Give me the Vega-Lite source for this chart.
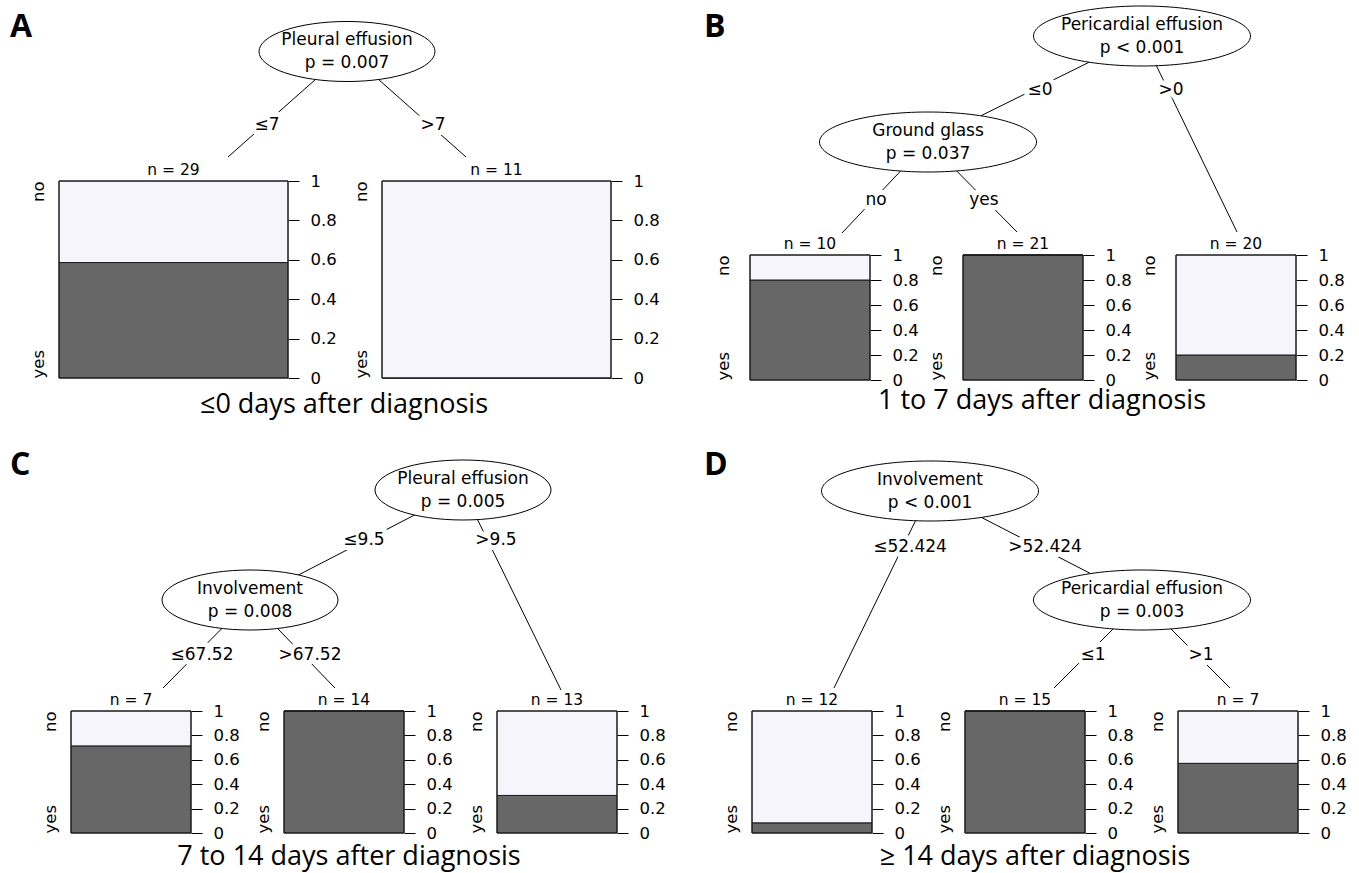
{
  "$schema": "https://vega.github.io/schema/vega-lite/v6.json",
  "background": "white",
  "padding": {"left": 0, "top": 0, "right": 0, "bottom": 2},
  "config": {
    "view": {"stroke": null},
    "axis": {"labelFont": "DejaVu Sans", "labelFontSize": 16.5, "labelColor": "black", "tickColor": "black", "tickWidth": 1},
    "title": {"font": "DejaVu Sans", "fontSize": 15.5, "fontWeight": "normal", "color": "black", "offset": -5},
    "text": {"font": "DejaVu Sans", "fontSize": 17, "color": "black"}
  },
  "datasets": {
    "nodes": [
      {"panel": "A", "x": 347, "y": 51.5, "var": "Pleural effusion", "p": "p = 0.007"},
      {"panel": "B", "x": 1142, "y": 36, "var": "Pericardial effusion", "p": "p < 0.001"},
      {"panel": "B", "x": 928, "y": 142, "var": "Ground glass", "p": "p = 0.037"},
      {"panel": "C", "x": 463, "y": 490, "var": "Pleural effusion", "p": "p = 0.005"},
      {"panel": "C", "x": 250, "y": 600, "var": "Involvement", "p": "p = 0.008"},
      {"panel": "D", "x": 930, "y": 491, "var": "Involvement", "p": "p < 0.001"},
      {"panel": "D", "x": 1142, "y": 600, "var": "Pericardial effusion", "p": "p = 0.003"}
    ],
    "edges": [
      {"panel": "A", "x": 347, "y": 51.5, "x2": 228, "y2": 157},
      {"panel": "A", "x": 347, "y": 51.5, "x2": 466, "y2": 157},
      {"panel": "B", "x": 1142, "y": 36, "x2": 928, "y2": 142},
      {"panel": "B", "x": 1142, "y": 36, "x2": 1237, "y2": 232},
      {"panel": "B", "x": 928, "y": 142, "x2": 842, "y2": 233},
      {"panel": "B", "x": 928, "y": 142, "x2": 1017, "y2": 232},
      {"panel": "C", "x": 463, "y": 490, "x2": 250, "y2": 600},
      {"panel": "C", "x": 463, "y": 490, "x2": 561, "y2": 690},
      {"panel": "C", "x": 250, "y": 600, "x2": 163, "y2": 688},
      {"panel": "C", "x": 250, "y": 600, "x2": 335, "y2": 688},
      {"panel": "D", "x": 930, "y": 491, "x2": 834, "y2": 688},
      {"panel": "D", "x": 930, "y": 491, "x2": 1142, "y2": 600},
      {"panel": "D", "x": 1142, "y": 600, "x2": 1054, "y2": 688},
      {"panel": "D", "x": 1142, "y": 600, "x2": 1230, "y2": 688}
    ],
    "edgelabels": [
      {"panel": "A", "x": 267, "y": 125, "label": "≤7"},
      {"panel": "A", "x": 433, "y": 125, "label": ">7"},
      {"panel": "B", "x": 1040, "y": 90, "label": "≤0"},
      {"panel": "B", "x": 1171, "y": 90, "label": ">0"},
      {"panel": "B", "x": 876, "y": 200, "label": "no"},
      {"panel": "B", "x": 984, "y": 200, "label": "yes"},
      {"panel": "C", "x": 364, "y": 540, "label": "≤9.5"},
      {"panel": "C", "x": 496, "y": 540, "label": ">9.5"},
      {"panel": "C", "x": 202, "y": 655, "label": "≤67.52"},
      {"panel": "C", "x": 310, "y": 655, "label": ">67.52"},
      {"panel": "D", "x": 910, "y": 547, "label": "≤52.424"},
      {"panel": "D", "x": 1045, "y": 547, "label": ">52.424"},
      {"panel": "D", "x": 1093, "y": 655, "label": "≤1"},
      {"panel": "D", "x": 1201, "y": 655, "label": ">1"}
    ],
    "texts": [
      {"panel": "A", "kind": "letter", "x": 10, "y": 37, "text": "A"},
      {"panel": "B", "kind": "letter", "x": 704, "y": 37, "text": "B"},
      {"panel": "C", "kind": "letter", "x": 10, "y": 475, "text": "C"},
      {"panel": "D", "kind": "letter", "x": 704, "y": 475, "text": "D"},
      {"panel": "A", "kind": "caption", "x": 344, "y": 405, "text": "≤0 days after diagnosis"},
      {"panel": "B", "kind": "caption", "x": 1042, "y": 401, "text": "1 to 7 days after diagnosis"},
      {"panel": "C", "kind": "caption", "x": 349, "y": 857, "text": "7 to 14 days after diagnosis"},
      {"panel": "D", "kind": "caption", "x": 1035, "y": 857, "text": "≥ 14 days after diagnosis"}
    ],
    "leaves": [
      {"leaf": "A1", "outcome": "yes", "prop": 0.586}, {"leaf": "A1", "outcome": "no", "prop": 0.414},
      {"leaf": "A2", "outcome": "yes", "prop": 0}, {"leaf": "A2", "outcome": "no", "prop": 1},
      {"leaf": "B1", "outcome": "yes", "prop": 0.8}, {"leaf": "B1", "outcome": "no", "prop": 0.2},
      {"leaf": "B2", "outcome": "yes", "prop": 1}, {"leaf": "B2", "outcome": "no", "prop": 0},
      {"leaf": "B3", "outcome": "yes", "prop": 0.2}, {"leaf": "B3", "outcome": "no", "prop": 0.8},
      {"leaf": "C1", "outcome": "yes", "prop": 0.714}, {"leaf": "C1", "outcome": "no", "prop": 0.286},
      {"leaf": "C2", "outcome": "yes", "prop": 1}, {"leaf": "C2", "outcome": "no", "prop": 0},
      {"leaf": "C3", "outcome": "yes", "prop": 0.308}, {"leaf": "C3", "outcome": "no", "prop": 0.692},
      {"leaf": "D1", "outcome": "yes", "prop": 0.083}, {"leaf": "D1", "outcome": "no", "prop": 0.917},
      {"leaf": "D2", "outcome": "yes", "prop": 1}, {"leaf": "D2", "outcome": "no", "prop": 0},
      {"leaf": "D3", "outcome": "yes", "prop": 0.571}, {"leaf": "D3", "outcome": "no", "prop": 0.429}
    ]
  },
  "bounds": "flush",
  "spacing": 440,
  "vconcat": [
    {
      "bounds": "flush",
      "spacing": 687,
      "hconcat": [
        {
          "bounds": "flush", "spacing": 0, "center": true,
          "vconcat": [
            {
              "width": 118, "height": 181,
              "encoding": {
                "x": {"field": "x", "type": "quantitative", "axis": null, "scale": {"domain": [0, 118], "nice": false, "zero": false}},
                "y": {"field": "y", "type": "quantitative", "axis": null, "scale": {"domain": [0, 181], "nice": false, "zero": false, "reverse": true}}
              },
              "layer": [
                {"data": {"name": "edges"}, "transform": [{"filter": "datum.panel == 'A'"}], "mark": {"type": "rule", "color": "black", "strokeWidth": 1}, "encoding": {"x2": {"field": "x2"}, "y2": {"field": "y2"}}},
                {"data": {"name": "edgelabels"}, "transform": [{"filter": "datum.panel == 'A'"}], "mark": {"type": "text", "fill": "white", "stroke": "white", "strokeWidth": 10, "strokeJoin": "round"}, "encoding": {"text": {"field": "label"}}},
                {"data": {"name": "edgelabels"}, "transform": [{"filter": "datum.panel == 'A'"}], "mark": {"type": "text"}, "encoding": {"text": {"field": "label"}}},
                {"data": {"name": "nodes"}, "transform": [{"filter": "datum.panel == 'A'"}], "mark": {"type": "point", "shape": "M-1,0C-1,-0.1883,-0.5523,-0.341,0,-0.341C0.5523,-0.341,1,-0.1883,1,0C1,0.1883,0.5523,0.341,0,0.341C-0.5523,0.341,-1,0.1883,-1,0Z", "size": 30976, "filled": true, "fill": "white", "stroke": "black", "strokeWidth": 1, "opacity": 1}},
                {"data": {"name": "nodes"}, "transform": [{"filter": "datum.panel == 'A'"}], "mark": {"type": "text", "dy": -11.5}, "encoding": {"text": {"field": "var"}}},
                {"data": {"name": "nodes"}, "transform": [{"filter": "datum.panel == 'A'"}], "mark": {"type": "text", "dy": 11.5}, "encoding": {"text": {"field": "p"}}},
                {"data": {"name": "texts"}, "transform": [{"filter": "datum.panel == 'A' && datum.kind == 'letter'"}], "mark": {"type": "text", "font": "Open Sans", "fontWeight": "bold", "fontSize": 32, "align": "left", "baseline": "alphabetic"}, "encoding": {"text": {"field": "text"}}},
                {"data": {"name": "texts"}, "transform": [{"filter": "datum.panel == 'A' && datum.kind == 'caption'"}], "mark": {"type": "text", "font": "Open Sans", "fontSize": 27}, "encoding": {"text": {"field": "text"}}}
              ]
            },
            {
              "bounds": "flush", "spacing": 94,
              "hconcat": [
                {
                  "width": 229, "height": 197, "title": {"text": "n = 29"},
                  "data": {"name": "leaves"}, "transform": [{"filter": "datum.leaf == 'A1'"}],
                  "encoding": {"x": {"field": "leaf", "type": "nominal", "axis": null, "scale": {"paddingInner": 0, "paddingOuter": 0}}},
                  "layer": [
                    {"mark": {"type": "bar", "stroke": "#1a1a1a", "strokeWidth": 1}, "encoding": {"y": {"field": "prop", "type": "quantitative", "stack": "zero", "scale": {"domain": [0, 1], "nice": false}, "axis": {"orient": "right", "values": [0, 0.2, 0.4, 0.6, 0.8, 1], "format": "~g", "title": null, "domain": false, "grid": false, "tickSize": 11, "labelPadding": 11}}, "color": {"field": "outcome", "type": "nominal", "scale": {"domain": ["yes", "no"], "range": ["#676767", "#F5F5FB"]}, "legend": null}, "order": {"field": "outcome", "type": "ordinal", "sort": "descending"}}},
                    {"mark": {"type": "bar", "fillOpacity": 0, "stroke": "#1a1a1a", "strokeWidth": 1}, "encoding": {"y": {"aggregate": "sum", "field": "prop", "type": "quantitative", "axis": {"orient": "left", "values": [0, 1], "labelExpr": "datum.value == 1 ? 'no' : 'yes'", "ticks": false, "domain": false, "grid": false, "title": null, "labelAngle": 270, "labelAlign": {"condition": {"test": "datum.value == 1", "value": "right"}, "value": "left"}, "labelBaseline": "bottom", "labelPadding": 13}}}}
                  ],
                  "resolve": {"axis": {"y": "independent"}}
                },
                {
                  "width": 229, "height": 197, "title": {"text": "n = 11"},
                  "data": {"name": "leaves"}, "transform": [{"filter": "datum.leaf == 'A2'"}],
                  "encoding": {"x": {"field": "leaf", "type": "nominal", "axis": null, "scale": {"paddingInner": 0, "paddingOuter": 0}}},
                  "layer": [
                    {"mark": {"type": "bar", "stroke": "#1a1a1a", "strokeWidth": 1}, "encoding": {"y": {"field": "prop", "type": "quantitative", "stack": "zero", "scale": {"domain": [0, 1], "nice": false}, "axis": {"orient": "right", "values": [0, 0.2, 0.4, 0.6, 0.8, 1], "format": "~g", "title": null, "domain": false, "grid": false, "tickSize": 11, "labelPadding": 11}}, "color": {"field": "outcome", "type": "nominal", "scale": {"domain": ["yes", "no"], "range": ["#676767", "#F5F5FB"]}, "legend": null}, "order": {"field": "outcome", "type": "ordinal", "sort": "descending"}}},
                    {"mark": {"type": "bar", "fillOpacity": 0, "stroke": "#1a1a1a", "strokeWidth": 1}, "encoding": {"y": {"aggregate": "sum", "field": "prop", "type": "quantitative", "axis": {"orient": "left", "values": [0, 1], "labelExpr": "datum.value == 1 ? 'no' : 'yes'", "ticks": false, "domain": false, "grid": false, "title": null, "labelAngle": 270, "labelAlign": {"condition": {"test": "datum.value == 1", "value": "right"}, "value": "left"}, "labelBaseline": "bottom", "labelPadding": 13}}}}
                  ],
                  "resolve": {"axis": {"y": "independent"}}
                }
              ]
            }
          ]
        },
        {
          "bounds": "flush", "spacing": 0, "center": true,
          "vconcat": [
            {
              "width": 126, "height": 255,
              "encoding": {
                "x": {"field": "x", "type": "quantitative", "axis": null, "scale": {"domain": [687, 813], "nice": false, "zero": false}},
                "y": {"field": "y", "type": "quantitative", "axis": null, "scale": {"domain": [0, 255], "nice": false, "zero": false, "reverse": true}}
              },
              "layer": [
                {"data": {"name": "edges"}, "transform": [{"filter": "datum.panel == 'B'"}], "mark": {"type": "rule", "color": "black", "strokeWidth": 1}, "encoding": {"x2": {"field": "x2"}, "y2": {"field": "y2"}}},
                {"data": {"name": "edgelabels"}, "transform": [{"filter": "datum.panel == 'B'"}], "mark": {"type": "text", "fill": "white", "stroke": "white", "strokeWidth": 10, "strokeJoin": "round"}, "encoding": {"text": {"field": "label"}}},
                {"data": {"name": "edgelabels"}, "transform": [{"filter": "datum.panel == 'B'"}], "mark": {"type": "text"}, "encoding": {"text": {"field": "label"}}},
                {"data": {"name": "nodes"}, "transform": [{"filter": "datum.panel == 'B'"}], "mark": {"type": "point", "shape": "M-1,0C-1,-0.1527,-0.5523,-0.2765,0,-0.2765C0.5523,-0.2765,1,-0.1527,1,0C1,0.1527,0.5523,0.2765,0,0.2765C-0.5523,0.2765,-1,0.1527,-1,0Z", "size": 47089, "filled": true, "fill": "white", "stroke": "black", "strokeWidth": 1, "opacity": 1}},
                {"data": {"name": "nodes"}, "transform": [{"filter": "datum.panel == 'B'"}], "mark": {"type": "text", "dy": -11.5}, "encoding": {"text": {"field": "var"}}},
                {"data": {"name": "nodes"}, "transform": [{"filter": "datum.panel == 'B'"}], "mark": {"type": "text", "dy": 11.5}, "encoding": {"text": {"field": "p"}}},
                {"data": {"name": "texts"}, "transform": [{"filter": "datum.panel == 'B' && datum.kind == 'letter'"}], "mark": {"type": "text", "font": "Open Sans", "fontWeight": "bold", "fontSize": 32, "align": "left", "baseline": "alphabetic"}, "encoding": {"text": {"field": "text"}}},
                {"data": {"name": "texts"}, "transform": [{"filter": "datum.panel == 'B' && datum.kind == 'caption'"}], "mark": {"type": "text", "font": "Open Sans", "fontSize": 27}, "encoding": {"text": {"field": "text"}}}
              ]
            },
            {
              "bounds": "flush", "spacing": 93,
              "hconcat": [
                {
                  "width": 120, "height": 125, "title": {"text": "n = 10"},
                  "data": {"name": "leaves"}, "transform": [{"filter": "datum.leaf == 'B1'"}],
                  "encoding": {"x": {"field": "leaf", "type": "nominal", "axis": null, "scale": {"paddingInner": 0, "paddingOuter": 0}}},
                  "layer": [
                    {"mark": {"type": "bar", "stroke": "#1a1a1a", "strokeWidth": 1}, "encoding": {"y": {"field": "prop", "type": "quantitative", "stack": "zero", "scale": {"domain": [0, 1], "nice": false}, "axis": {"orient": "right", "values": [0, 0.2, 0.4, 0.6, 0.8, 1], "format": "~g", "title": null, "domain": false, "grid": false, "tickSize": 11, "labelPadding": 11}}, "color": {"field": "outcome", "type": "nominal", "scale": {"domain": ["yes", "no"], "range": ["#676767", "#F5F5FB"]}, "legend": null}, "order": {"field": "outcome", "type": "ordinal", "sort": "descending"}}},
                    {"mark": {"type": "bar", "fillOpacity": 0, "stroke": "#1a1a1a", "strokeWidth": 1}, "encoding": {"y": {"aggregate": "sum", "field": "prop", "type": "quantitative", "axis": {"orient": "left", "values": [0, 1], "labelExpr": "datum.value == 1 ? 'no' : 'yes'", "ticks": false, "domain": false, "grid": false, "title": null, "labelAngle": 270, "labelAlign": {"condition": {"test": "datum.value == 1", "value": "right"}, "value": "left"}, "labelBaseline": "bottom", "labelPadding": 19}}}}
                  ],
                  "resolve": {"axis": {"y": "independent"}}
                },
                {
                  "width": 120, "height": 125, "title": {"text": "n = 21"},
                  "data": {"name": "leaves"}, "transform": [{"filter": "datum.leaf == 'B2'"}],
                  "encoding": {"x": {"field": "leaf", "type": "nominal", "axis": null, "scale": {"paddingInner": 0, "paddingOuter": 0}}},
                  "layer": [
                    {"mark": {"type": "bar", "stroke": "#1a1a1a", "strokeWidth": 1}, "encoding": {"y": {"field": "prop", "type": "quantitative", "stack": "zero", "scale": {"domain": [0, 1], "nice": false}, "axis": {"orient": "right", "values": [0, 0.2, 0.4, 0.6, 0.8, 1], "format": "~g", "title": null, "domain": false, "grid": false, "tickSize": 11, "labelPadding": 11}}, "color": {"field": "outcome", "type": "nominal", "scale": {"domain": ["yes", "no"], "range": ["#676767", "#F5F5FB"]}, "legend": null}, "order": {"field": "outcome", "type": "ordinal", "sort": "descending"}}},
                    {"mark": {"type": "bar", "fillOpacity": 0, "stroke": "#1a1a1a", "strokeWidth": 1}, "encoding": {"y": {"aggregate": "sum", "field": "prop", "type": "quantitative", "axis": {"orient": "left", "values": [0, 1], "labelExpr": "datum.value == 1 ? 'no' : 'yes'", "ticks": false, "domain": false, "grid": false, "title": null, "labelAngle": 270, "labelAlign": {"condition": {"test": "datum.value == 1", "value": "right"}, "value": "left"}, "labelBaseline": "bottom", "labelPadding": 19}}}}
                  ],
                  "resolve": {"axis": {"y": "independent"}}
                },
                {
                  "width": 120, "height": 125, "title": {"text": "n = 20"},
                  "data": {"name": "leaves"}, "transform": [{"filter": "datum.leaf == 'B3'"}],
                  "encoding": {"x": {"field": "leaf", "type": "nominal", "axis": null, "scale": {"paddingInner": 0, "paddingOuter": 0}}},
                  "layer": [
                    {"mark": {"type": "bar", "stroke": "#1a1a1a", "strokeWidth": 1}, "encoding": {"y": {"field": "prop", "type": "quantitative", "stack": "zero", "scale": {"domain": [0, 1], "nice": false}, "axis": {"orient": "right", "values": [0, 0.2, 0.4, 0.6, 0.8, 1], "format": "~g", "title": null, "domain": false, "grid": false, "tickSize": 11, "labelPadding": 11}}, "color": {"field": "outcome", "type": "nominal", "scale": {"domain": ["yes", "no"], "range": ["#676767", "#F5F5FB"]}, "legend": null}, "order": {"field": "outcome", "type": "ordinal", "sort": "descending"}}},
                    {"mark": {"type": "bar", "fillOpacity": 0, "stroke": "#1a1a1a", "strokeWidth": 1}, "encoding": {"y": {"aggregate": "sum", "field": "prop", "type": "quantitative", "axis": {"orient": "left", "values": [0, 1], "labelExpr": "datum.value == 1 ? 'no' : 'yes'", "ticks": false, "domain": false, "grid": false, "title": null, "labelAngle": 270, "labelAlign": {"condition": {"test": "datum.value == 1", "value": "right"}, "value": "left"}, "labelBaseline": "bottom", "labelPadding": 19}}}}
                  ],
                  "resolve": {"axis": {"y": "independent"}}
                }
              ]
            }
          ]
        }
      ]
    },
    {
      "bounds": "flush",
      "spacing": 691,
      "hconcat": [
        {
          "bounds": "flush", "spacing": 0, "center": true,
          "vconcat": [
            {
              "width": 142, "height": 271,
              "encoding": {
                "x": {"field": "x", "type": "quantitative", "axis": null, "scale": {"domain": [0, 142], "nice": false, "zero": false}},
                "y": {"field": "y", "type": "quantitative", "axis": null, "scale": {"domain": [440, 711], "nice": false, "zero": false, "reverse": true}}
              },
              "layer": [
                {"data": {"name": "edges"}, "transform": [{"filter": "datum.panel == 'C'"}], "mark": {"type": "rule", "color": "black", "strokeWidth": 1}, "encoding": {"x2": {"field": "x2"}, "y2": {"field": "y2"}}},
                {"data": {"name": "edgelabels"}, "transform": [{"filter": "datum.panel == 'C'"}], "mark": {"type": "text", "fill": "white", "stroke": "white", "strokeWidth": 10, "strokeJoin": "round"}, "encoding": {"text": {"field": "label"}}},
                {"data": {"name": "edgelabels"}, "transform": [{"filter": "datum.panel == 'C'"}], "mark": {"type": "text"}, "encoding": {"text": {"field": "label"}}},
                {"data": {"name": "nodes"}, "transform": [{"filter": "datum.panel == 'C'"}], "mark": {"type": "point", "shape": "M-1,0C-1,-0.1883,-0.5523,-0.341,0,-0.341C0.5523,-0.341,1,-0.1883,1,0C1,0.1883,0.5523,0.341,0,0.341C-0.5523,0.341,-1,0.1883,-1,0Z", "size": 30976, "filled": true, "fill": "white", "stroke": "black", "strokeWidth": 1, "opacity": 1}},
                {"data": {"name": "nodes"}, "transform": [{"filter": "datum.panel == 'C'"}], "mark": {"type": "text", "dy": -11.5}, "encoding": {"text": {"field": "var"}}},
                {"data": {"name": "nodes"}, "transform": [{"filter": "datum.panel == 'C'"}], "mark": {"type": "text", "dy": 11.5}, "encoding": {"text": {"field": "p"}}},
                {"data": {"name": "texts"}, "transform": [{"filter": "datum.panel == 'C' && datum.kind == 'letter'"}], "mark": {"type": "text", "font": "Open Sans", "fontWeight": "bold", "fontSize": 32, "align": "left", "baseline": "alphabetic"}, "encoding": {"text": {"field": "text"}}},
                {"data": {"name": "texts"}, "transform": [{"filter": "datum.panel == 'C' && datum.kind == 'caption'"}], "mark": {"type": "text", "font": "Open Sans", "fontSize": 27}, "encoding": {"text": {"field": "text"}}}
              ]
            },
            {
              "bounds": "flush", "spacing": 93,
              "hconcat": [
                {
                  "width": 120, "height": 122, "title": {"text": "n = 7"},
                  "data": {"name": "leaves"}, "transform": [{"filter": "datum.leaf == 'C1'"}],
                  "encoding": {"x": {"field": "leaf", "type": "nominal", "axis": null, "scale": {"paddingInner": 0, "paddingOuter": 0}}},
                  "layer": [
                    {"mark": {"type": "bar", "stroke": "#1a1a1a", "strokeWidth": 1}, "encoding": {"y": {"field": "prop", "type": "quantitative", "stack": "zero", "scale": {"domain": [0, 1], "nice": false}, "axis": {"orient": "right", "values": [0, 0.2, 0.4, 0.6, 0.8, 1], "format": "~g", "title": null, "domain": false, "grid": false, "tickSize": 11, "labelPadding": 11}}, "color": {"field": "outcome", "type": "nominal", "scale": {"domain": ["yes", "no"], "range": ["#676767", "#F5F5FB"]}, "legend": null}, "order": {"field": "outcome", "type": "ordinal", "sort": "descending"}}},
                    {"mark": {"type": "bar", "fillOpacity": 0, "stroke": "#1a1a1a", "strokeWidth": 1}, "encoding": {"y": {"aggregate": "sum", "field": "prop", "type": "quantitative", "axis": {"orient": "left", "values": [0, 1], "labelExpr": "datum.value == 1 ? 'no' : 'yes'", "ticks": false, "domain": false, "grid": false, "title": null, "labelAngle": 270, "labelAlign": {"condition": {"test": "datum.value == 1", "value": "right"}, "value": "left"}, "labelBaseline": "bottom", "labelPadding": 13}}}}
                  ],
                  "resolve": {"axis": {"y": "independent"}}
                },
                {
                  "width": 120, "height": 122, "title": {"text": "n = 14"},
                  "data": {"name": "leaves"}, "transform": [{"filter": "datum.leaf == 'C2'"}],
                  "encoding": {"x": {"field": "leaf", "type": "nominal", "axis": null, "scale": {"paddingInner": 0, "paddingOuter": 0}}},
                  "layer": [
                    {"mark": {"type": "bar", "stroke": "#1a1a1a", "strokeWidth": 1}, "encoding": {"y": {"field": "prop", "type": "quantitative", "stack": "zero", "scale": {"domain": [0, 1], "nice": false}, "axis": {"orient": "right", "values": [0, 0.2, 0.4, 0.6, 0.8, 1], "format": "~g", "title": null, "domain": false, "grid": false, "tickSize": 11, "labelPadding": 11}}, "color": {"field": "outcome", "type": "nominal", "scale": {"domain": ["yes", "no"], "range": ["#676767", "#F5F5FB"]}, "legend": null}, "order": {"field": "outcome", "type": "ordinal", "sort": "descending"}}},
                    {"mark": {"type": "bar", "fillOpacity": 0, "stroke": "#1a1a1a", "strokeWidth": 1}, "encoding": {"y": {"aggregate": "sum", "field": "prop", "type": "quantitative", "axis": {"orient": "left", "values": [0, 1], "labelExpr": "datum.value == 1 ? 'no' : 'yes'", "ticks": false, "domain": false, "grid": false, "title": null, "labelAngle": 270, "labelAlign": {"condition": {"test": "datum.value == 1", "value": "right"}, "value": "left"}, "labelBaseline": "bottom", "labelPadding": 13}}}}
                  ],
                  "resolve": {"axis": {"y": "independent"}}
                },
                {
                  "width": 120, "height": 122, "title": {"text": "n = 13"},
                  "data": {"name": "leaves"}, "transform": [{"filter": "datum.leaf == 'C3'"}],
                  "encoding": {"x": {"field": "leaf", "type": "nominal", "axis": null, "scale": {"paddingInner": 0, "paddingOuter": 0}}},
                  "layer": [
                    {"mark": {"type": "bar", "stroke": "#1a1a1a", "strokeWidth": 1}, "encoding": {"y": {"field": "prop", "type": "quantitative", "stack": "zero", "scale": {"domain": [0, 1], "nice": false}, "axis": {"orient": "right", "values": [0, 0.2, 0.4, 0.6, 0.8, 1], "format": "~g", "title": null, "domain": false, "grid": false, "tickSize": 11, "labelPadding": 11}}, "color": {"field": "outcome", "type": "nominal", "scale": {"domain": ["yes", "no"], "range": ["#676767", "#F5F5FB"]}, "legend": null}, "order": {"field": "outcome", "type": "ordinal", "sort": "descending"}}},
                    {"mark": {"type": "bar", "fillOpacity": 0, "stroke": "#1a1a1a", "strokeWidth": 1}, "encoding": {"y": {"aggregate": "sum", "field": "prop", "type": "quantitative", "axis": {"orient": "left", "values": [0, 1], "labelExpr": "datum.value == 1 ? 'no' : 'yes'", "ticks": false, "domain": false, "grid": false, "title": null, "labelAngle": 270, "labelAlign": {"condition": {"test": "datum.value == 1", "value": "right"}, "value": "left"}, "labelBaseline": "bottom", "labelPadding": 13}}}}
                  ],
                  "resolve": {"axis": {"y": "independent"}}
                }
              ]
            }
          ]
        },
        {
          "bounds": "flush", "spacing": 0, "center": true,
          "vconcat": [
            {
              "width": 122, "height": 271,
              "encoding": {
                "x": {"field": "x", "type": "quantitative", "axis": null, "scale": {"domain": [691, 813], "nice": false, "zero": false}},
                "y": {"field": "y", "type": "quantitative", "axis": null, "scale": {"domain": [440, 711], "nice": false, "zero": false, "reverse": true}}
              },
              "layer": [
                {"data": {"name": "edges"}, "transform": [{"filter": "datum.panel == 'D'"}], "mark": {"type": "rule", "color": "black", "strokeWidth": 1}, "encoding": {"x2": {"field": "x2"}, "y2": {"field": "y2"}}},
                {"data": {"name": "edgelabels"}, "transform": [{"filter": "datum.panel == 'D'"}], "mark": {"type": "text", "fill": "white", "stroke": "white", "strokeWidth": 10, "strokeJoin": "round"}, "encoding": {"text": {"field": "label"}}},
                {"data": {"name": "edgelabels"}, "transform": [{"filter": "datum.panel == 'D'"}], "mark": {"type": "text"}, "encoding": {"text": {"field": "label"}}},
                {"data": {"name": "nodes"}, "transform": [{"filter": "datum.panel == 'D'"}], "mark": {"type": "point", "shape": "M-1,0C-1,-0.1527,-0.5523,-0.2765,0,-0.2765C0.5523,-0.2765,1,-0.1527,1,0C1,0.1527,0.5523,0.2765,0,0.2765C-0.5523,0.2765,-1,0.1527,-1,0Z", "size": 47089, "filled": true, "fill": "white", "stroke": "black", "strokeWidth": 1, "opacity": 1}},
                {"data": {"name": "nodes"}, "transform": [{"filter": "datum.panel == 'D'"}], "mark": {"type": "text", "dy": -11.5}, "encoding": {"text": {"field": "var"}}},
                {"data": {"name": "nodes"}, "transform": [{"filter": "datum.panel == 'D'"}], "mark": {"type": "text", "dy": 11.5}, "encoding": {"text": {"field": "p"}}},
                {"data": {"name": "texts"}, "transform": [{"filter": "datum.panel == 'D' && datum.kind == 'letter'"}], "mark": {"type": "text", "font": "Open Sans", "fontWeight": "bold", "fontSize": 32, "align": "left", "baseline": "alphabetic"}, "encoding": {"text": {"field": "text"}}},
                {"data": {"name": "texts"}, "transform": [{"filter": "datum.panel == 'D' && datum.kind == 'caption'"}], "mark": {"type": "text", "font": "Open Sans", "fontSize": 27}, "encoding": {"text": {"field": "text"}}}
              ]
            },
            {
              "bounds": "flush", "spacing": 93,
              "hconcat": [
                {
                  "width": 120, "height": 122, "title": {"text": "n = 12"},
                  "data": {"name": "leaves"}, "transform": [{"filter": "datum.leaf == 'D1'"}],
                  "encoding": {"x": {"field": "leaf", "type": "nominal", "axis": null, "scale": {"paddingInner": 0, "paddingOuter": 0}}},
                  "layer": [
                    {"mark": {"type": "bar", "stroke": "#1a1a1a", "strokeWidth": 1}, "encoding": {"y": {"field": "prop", "type": "quantitative", "stack": "zero", "scale": {"domain": [0, 1], "nice": false}, "axis": {"orient": "right", "values": [0, 0.2, 0.4, 0.6, 0.8, 1], "format": "~g", "title": null, "domain": false, "grid": false, "tickSize": 11, "labelPadding": 11}}, "color": {"field": "outcome", "type": "nominal", "scale": {"domain": ["yes", "no"], "range": ["#676767", "#F5F5FB"]}, "legend": null}, "order": {"field": "outcome", "type": "ordinal", "sort": "descending"}}},
                    {"mark": {"type": "bar", "fillOpacity": 0, "stroke": "#1a1a1a", "strokeWidth": 1}, "encoding": {"y": {"aggregate": "sum", "field": "prop", "type": "quantitative", "axis": {"orient": "left", "values": [0, 1], "labelExpr": "datum.value == 1 ? 'no' : 'yes'", "ticks": false, "domain": false, "grid": false, "title": null, "labelAngle": 270, "labelAlign": {"condition": {"test": "datum.value == 1", "value": "right"}, "value": "left"}, "labelBaseline": "bottom", "labelPadding": 13}}}}
                  ],
                  "resolve": {"axis": {"y": "independent"}}
                },
                {
                  "width": 120, "height": 122, "title": {"text": "n = 15"},
                  "data": {"name": "leaves"}, "transform": [{"filter": "datum.leaf == 'D2'"}],
                  "encoding": {"x": {"field": "leaf", "type": "nominal", "axis": null, "scale": {"paddingInner": 0, "paddingOuter": 0}}},
                  "layer": [
                    {"mark": {"type": "bar", "stroke": "#1a1a1a", "strokeWidth": 1}, "encoding": {"y": {"field": "prop", "type": "quantitative", "stack": "zero", "scale": {"domain": [0, 1], "nice": false}, "axis": {"orient": "right", "values": [0, 0.2, 0.4, 0.6, 0.8, 1], "format": "~g", "title": null, "domain": false, "grid": false, "tickSize": 11, "labelPadding": 11}}, "color": {"field": "outcome", "type": "nominal", "scale": {"domain": ["yes", "no"], "range": ["#676767", "#F5F5FB"]}, "legend": null}, "order": {"field": "outcome", "type": "ordinal", "sort": "descending"}}},
                    {"mark": {"type": "bar", "fillOpacity": 0, "stroke": "#1a1a1a", "strokeWidth": 1}, "encoding": {"y": {"aggregate": "sum", "field": "prop", "type": "quantitative", "axis": {"orient": "left", "values": [0, 1], "labelExpr": "datum.value == 1 ? 'no' : 'yes'", "ticks": false, "domain": false, "grid": false, "title": null, "labelAngle": 270, "labelAlign": {"condition": {"test": "datum.value == 1", "value": "right"}, "value": "left"}, "labelBaseline": "bottom", "labelPadding": 13}}}}
                  ],
                  "resolve": {"axis": {"y": "independent"}}
                },
                {
                  "width": 120, "height": 122, "title": {"text": "n = 7"},
                  "data": {"name": "leaves"}, "transform": [{"filter": "datum.leaf == 'D3'"}],
                  "encoding": {"x": {"field": "leaf", "type": "nominal", "axis": null, "scale": {"paddingInner": 0, "paddingOuter": 0}}},
                  "layer": [
                    {"mark": {"type": "bar", "stroke": "#1a1a1a", "strokeWidth": 1}, "encoding": {"y": {"field": "prop", "type": "quantitative", "stack": "zero", "scale": {"domain": [0, 1], "nice": false}, "axis": {"orient": "right", "values": [0, 0.2, 0.4, 0.6, 0.8, 1], "format": "~g", "title": null, "domain": false, "grid": false, "tickSize": 11, "labelPadding": 11}}, "color": {"field": "outcome", "type": "nominal", "scale": {"domain": ["yes", "no"], "range": ["#676767", "#F5F5FB"]}, "legend": null}, "order": {"field": "outcome", "type": "ordinal", "sort": "descending"}}},
                    {"mark": {"type": "bar", "fillOpacity": 0, "stroke": "#1a1a1a", "strokeWidth": 1}, "encoding": {"y": {"aggregate": "sum", "field": "prop", "type": "quantitative", "axis": {"orient": "left", "values": [0, 1], "labelExpr": "datum.value == 1 ? 'no' : 'yes'", "ticks": false, "domain": false, "grid": false, "title": null, "labelAngle": 270, "labelAlign": {"condition": {"test": "datum.value == 1", "value": "right"}, "value": "left"}, "labelBaseline": "bottom", "labelPadding": 13}}}}
                  ],
                  "resolve": {"axis": {"y": "independent"}}
                }
              ]
            }
          ]
        }
      ]
    }
  ]
}
